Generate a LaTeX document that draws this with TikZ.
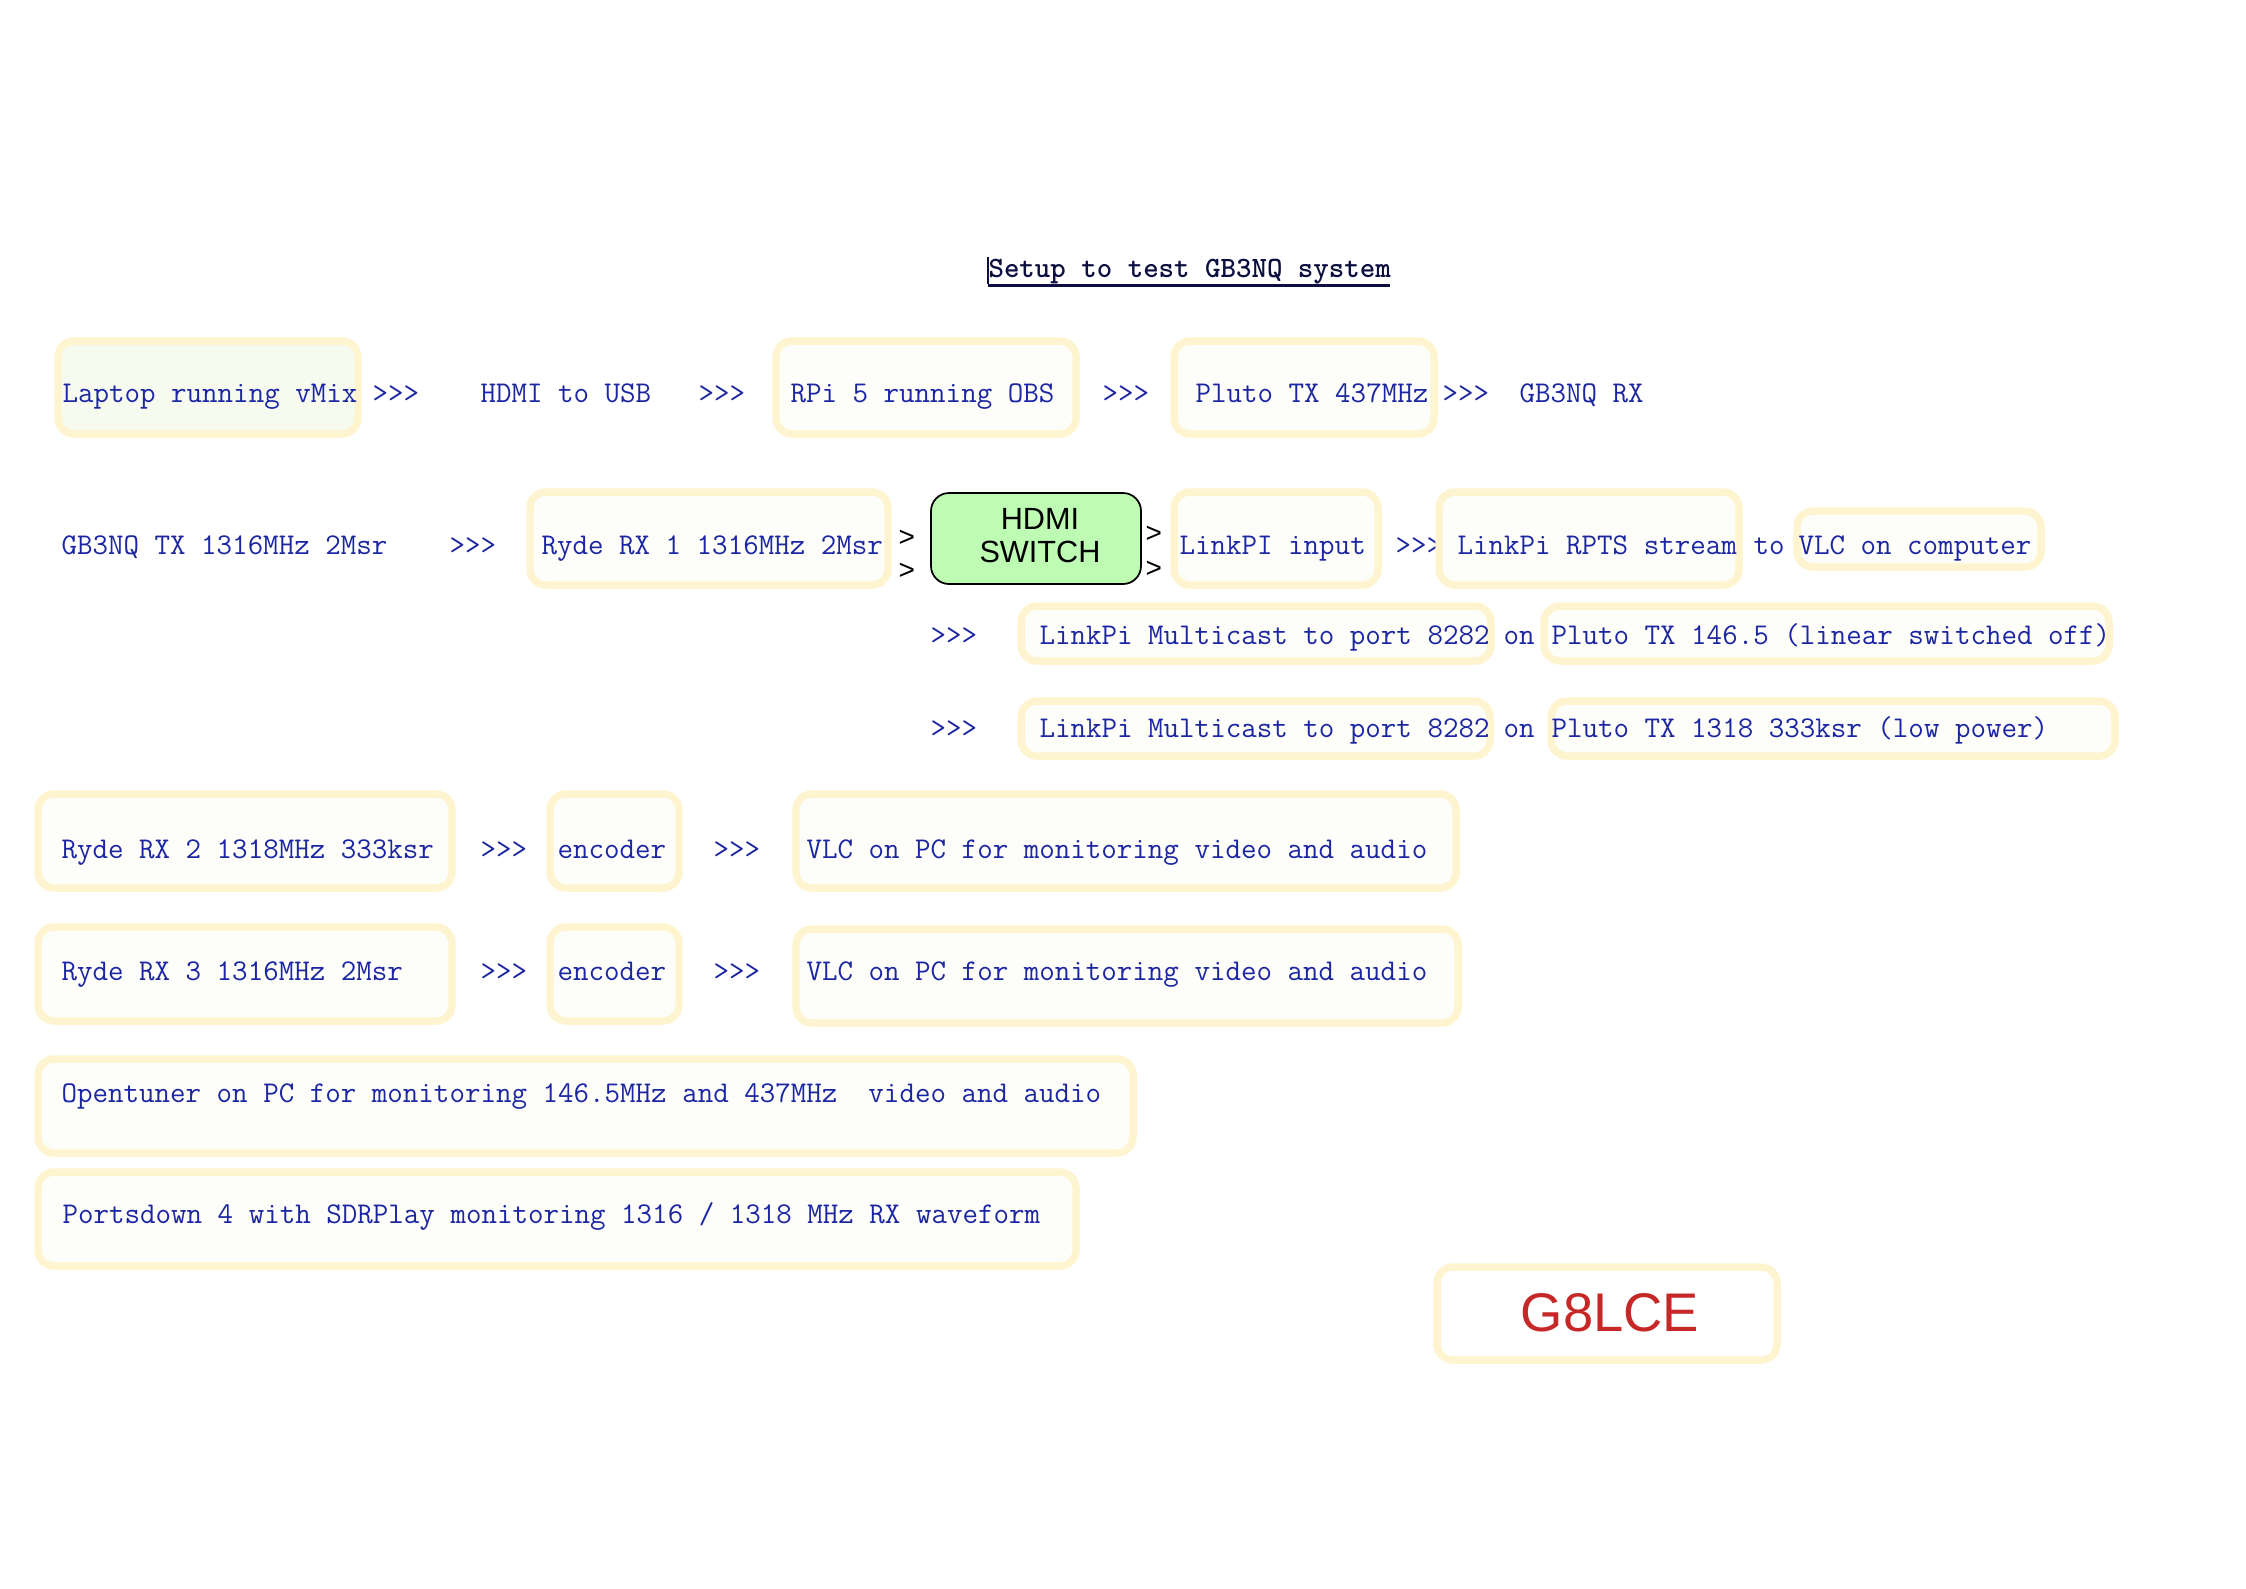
\documentclass[tikz,border=0pt]{standalone}
\usepackage{fontspec}
\newfontfamily\sansf{Liberation Sans}
\usetikzlibrary{fit}
\definecolor{boxyellow}{RGB}{255,244,208}
\definecolor{boxfill}{RGB}{253,253,250}
\definecolor{lapfill}{RGB}{247,250,239}
\definecolor{txtblue}{RGB}{28,38,162}
\definecolor{navy}{RGB}{12,16,64}
\definecolor{switchgreen}{RGB}{190,252,180}
\definecolor{callred}{RGB}{198,40,40}
\tikzset{
  ybox/.style={draw=boxyellow, line width=2.8pt, rounded corners=6pt, fill=boxfill, inner sep=0pt},
  txt/.style={anchor=base west, inner sep=0pt, text=txtblue, font=\ttfamily\fontsize{11.3}{13}\selectfont},
  blk/.style={anchor=base west, inner sep=0pt, text=black, font=\sansf\fontsize{10.5}{12}\selectfont},
  switchbox/.style={draw=black, line width=0.65pt, fill=switchgreen, rounded corners=6.75pt, inner sep=0pt},
}
\begin{document}
\begin{tikzpicture}[x=0.375pt, y=-0.375pt]
\useasboundingbox (0,0) rectangle (2246,1588);

% title
\node[txt, text=navy, font=\ttfamily\bfseries\fontsize{11.05}{13}\selectfont] (title) at (988,277) {Setup to test GB3NQ system};
\draw[navy, line width=0.9pt] (title.base west) ++(0,8.5) -- ++(402,0);
\draw[navy, line width=0.4pt] (title.base west) ++(0,-20) -- ++(0,27);

% text under a box
\node[txt] (a22) at (1395,554.5) {>>>};

% boxes
\node[ybox, fill=lapfill, fit={(58,341) (358,434)}] (lap) {};
\node[ybox, fit={(776,341) (1076,434)}] (rpi) {};
\node[ybox, fit={(1174,341) (1434,434)}] (plu) {};

\node[ybox, fit={(530,492) (888,585)}] (ryde1) {};
\node[switchbox, fit={(931,493) (1141,584)}] (sw) {};
\node[ybox, fit={(1174,492) (1378,585)}] (link) {};
\node[ybox, fit={(1439,492) (1739,585)}] (rpts) {};
\node[ybox, fit={(1797,511) (2041,567)}] (vlcc) {};

\node[ybox, fit={(1021,606) (1491,661)}] (mc1) {};
\node[ybox, fit={(1544,606) (2109,661)}] (p146) {};
\node[ybox, fit={(1021,701) (1490,756)}] (mc2) {};
\node[ybox, fit={(1551,701) (2115,756)}] (p1318) {};

\node[ybox, fit={(38,794) (452,888)}] (ryde2) {};
\node[ybox, fit={(550,794) (679,888)}] (enc1) {};
\node[ybox, fit={(796,794) (1456,888)}] (vlc1) {};

\node[ybox, fit={(38,927) (452,1021)}] (ryde3) {};
\node[ybox, fit={(550,927) (679,1021)}] (enc2) {};
\node[ybox, fit={(796,929) (1458,1023)}] (vlc2) {};

\node[ybox, fit={(38,1059) (1133,1153)}] (open) {};
\node[ybox, fit={(38,1172) (1076,1266)}] (ports) {};
\node[ybox, fill=white, fit={(1437,1267) (1777,1360)}] (call) {};

% row 1
\node[txt] (t11) at (62,402.5) {Laptop running vMix};
\node[txt] (a11) at (372,402.5) {>>>};
\node[txt] (t12) at (480,402.5) {HDMI to USB};
\node[txt] (a12) at (698,402.5) {>>>};
\node[txt] (t13) at (790,402.5) {RPi 5 running OBS};
\node[txt] (a13) at (1102,402.5) {>>>};
\node[txt] (t14) at (1195,402.5) {Pluto TX 437MHz};
\node[txt] (a14) at (1442,402.5) {>>>};
\node[txt] (t15) at (1519,402.5) {GB3NQ RX};

% row 2
\node[txt] (t21) at (61,554.5) {GB3NQ TX 1316MHz 2Msr};
\node[txt] (a21) at (449,554.5) {>>>};
\node[txt] (t22) at (541,554.5) {Ryde RX 1 1316MHz 2Msr};
\node[blk] (g1) at (898,546) {>};
\node[blk] (g2) at (898,579) {>};
\node[blk] (g3) at (1145,542) {>};
\node[blk] (g4) at (1145,577) {>};
\node[anchor=center, inner sep=0pt, align=center, font=\sansf\fontsize{11.5}{12.4}\selectfont] (swt) at (1040,535.5) {HDMI\\SWITCH};
\node[txt] (t23) at (1179,554.5) {LinkPI input};
\node[txt] (t24) at (1457,554.5) {LinkPi RPTS stream};
\node[txt] (t25) at (1753,554.5) {to};
\node[txt] (t26) at (1798,554.5) {VLC on computer};

% row 3
\node[txt] (a31) at (930,644.5) {>>>};
\node[txt] (t31) at (1039,644.5) {LinkPi Multicast to port 8282};
\node[txt] (t32) at (1503,644.5) {on};
\node[txt] (t33) at (1551,644.5) {Pluto TX 146.5 (linear switched off)};

% row 4
\node[txt] (a41) at (930,737.5) {>>>};
\node[txt] (t41) at (1039,737.5) {LinkPi Multicast to port 8282};
\node[txt] (t42) at (1503,737.5) {on};
\node[txt] (t43) at (1551,737.5) {Pluto TX 1318 333ksr (low power)};

% row 5
\node[txt] (t51) at (61,858.5) {Ryde RX 2 1318MHz 333ksr};
\node[txt] (a51) at (480,858.5) {>>>};
\node[txt] (t52) at (557,858.5) {encoder};
\node[txt] (a52) at (713,858.5) {>>>};
\node[txt] (t53) at (806,858.5) {VLC on PC for monitoring video and audio};

% row 6
\node[txt] (t61) at (61,980.5) {Ryde RX 3 1316MHz 2Msr};
\node[txt] (a61) at (480,980.5) {>>>};
\node[txt] (t62) at (557,980.5) {encoder};
\node[txt] (a62) at (713,980.5) {>>>};
\node[txt] (t63) at (806,980.5) {VLC on PC for monitoring video and audio};

% rows 7, 8
\node[txt] (t71) at (61,1102.5) {Opentuner on PC for monitoring 146.5MHz and 437MHz\ \ video and audio};
\node[txt] (t81) at (62,1223.5) {Portsdown 4 with SDRPlay monitoring 1316 / 1318 MHz RX waveform};

% call sign
\node[inner sep=0pt, text=callred, font=\sansf\fontsize{20.4}{24}\selectfont] (cs) at (1610,1312.5) {G8LCE};
\end{tikzpicture}
\end{document}
